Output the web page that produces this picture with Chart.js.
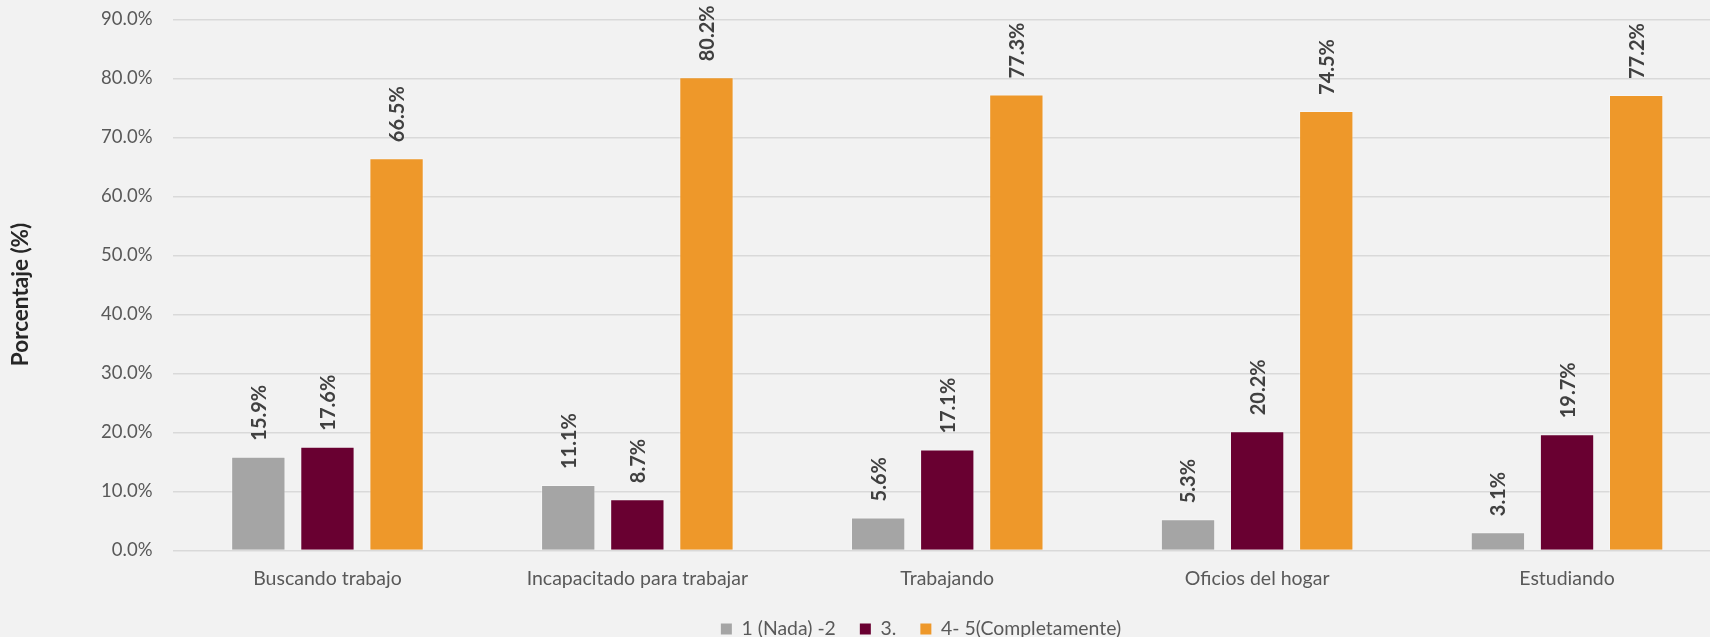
<!DOCTYPE html>
<html>
<head>
<meta charset="utf-8">
<script src="https://cdn.jsdelivr.net/npm/chart.js@4"></script>
<style>
  html, body { margin: 0; padding: 0; background: #F2F2F2; overflow: hidden; }
  #wrap { position: relative; width: 1740px; height: 637px; }
</style>
</head>
<body>
<div id="wrap"><canvas id="chart"></canvas></div>
<script>
const categories = ['Buscando trabajo', 'Incapacitado para trabajar', 'Trabajando', 'Oficios del hogar', 'Estudiando'];
const seriesNames = ['1 (Nada) -2', '3.', '4- 5(Completamente)'];
const nadaValues = [15.9, 11.1, 5.6, 5.3, 3.1];
const tresValues = [17.6, 8.7, 17.1, 20.2, 19.7];
const completaValues = [66.5, 80.2, 77.3, 74.5, 77.2];
const yTicks = [0, 10, 20, 30, 40, 50, 60, 70, 80, 90];
const yTitle = 'Porcentaje (%)';

const FONT = 'Lato, "Open Sans", sans-serif';
const TEXT = '#595959';
const LEGEND_FONT = 19.4;
const LEGEND_PAD = 24;

// Rotated value labels above each bar, plus the vertical axis title
const valueLabels = {
  id: 'valueLabels',
  afterDatasetsDraw(chart) {
    const ctx = chart.ctx;
    ctx.save();
    ctx.font = 'bold 20px ' + FONT;
    ctx.fillStyle = '#404040';
    ctx.textAlign = 'left';
    ctx.textBaseline = 'middle';
    chart.data.datasets.forEach((ds, i) => {
      chart.getDatasetMeta(i).data.forEach((bar, j) => {
        ctx.save();
        ctx.translate(bar.x, bar.y - 16);
        ctx.rotate(-Math.PI / 2);
        ctx.fillText(ds.data[j].toFixed(1) + '%', 0, 1);
        ctx.restore();
      });
    });
    ctx.font = 'bold 22.5px ' + FONT;
    ctx.fillStyle = '#262626';
    ctx.textAlign = 'center';
    ctx.translate(21, 294.5);
    ctx.rotate(-Math.PI / 2);
    ctx.fillText(yTitle, 0, 0);
    ctx.restore();
  }
};

// Keep the legend row compact and place it centred under the bars
const legendShift = {
  id: 'legendShift',
  beforeLayout(chart) {
    const lg = chart.legend;
    if (!lg || lg._compact) return;
    const fit = lg.fit.bind(lg);
    lg.fit = function () { fit(); this.height = 20; };
    lg._compact = true;
  },
  afterLayout(chart) {
    const lg = chart.legend;
    if (!lg) return;
    const dx = 921 - (lg.left + lg.right) / 2;
    lg.left += dx; lg.right += dx;
    const top = 629 - LEGEND_PAD - Math.max(LEGEND_FONT, 11) / 2;
    lg.top = top;
    lg.bottom = top + 80;
    lg.height = 80;
  }
};

const mk = (label, data, color) => ({
  label, data,
  backgroundColor: color,
  borderColor: 'rgba(255,255,255,0.35)',
  borderWidth: 1,
  borderSkipped: 'bottom'
});

new Chart(document.getElementById('chart'), {
  type: 'bar',
  data: {
    labels: categories,
    datasets: [
      mk(seriesNames[0], nadaValues, '#A5A5A5'),
      mk(seriesNames[1], tresValues, '#690031'),
      mk(seriesNames[2], completaValues, '#EE982A')
    ]
  },
  options: {
    responsive: true,
    maintainAspectRatio: false,
    animation: false,
    layout: { padding: { left: 0, right: 18, top: 19.5, bottom: 0 } },
    datasets: { bar: { categoryPercentage: 0.669, barPercentage: 0.786 } },
    plugins: {
      tooltip: { enabled: false },
      legend: {
        position: 'bottom',
        labels: {
          font: { family: FONT, size: LEGEND_FONT },
          color: TEXT,
          boxWidth: 11,
          boxHeight: 11,
          padding: LEGEND_PAD,
          generateLabels(chart) {
            return chart.data.datasets.map((ds, i) => ({
              text: ds.label,
              fillStyle: ds.backgroundColor,
              strokeStyle: ds.backgroundColor,
              lineWidth: 0,
              datasetIndex: i,
              fontColor: TEXT
            }));
          }
        }
      }
    },
    scales: {
      x: {
        grid: { display: false, drawTicks: false },
        border: { display: false },
        ticks: { font: { family: FONT, size: 19.5 }, color: TEXT, padding: 16.8 },
        afterFit(scale) {
          scale.height = 637 - 550.5 - 20;
          scale.paddingLeft = 0; scale.paddingRight = 0;
        }
      },
      y: {
        min: 0, max: 90,
        afterBuildTicks(scale) { scale.ticks = yTicks.map(v => ({ value: v })); },
        afterFit(scale) {
          scale.width = 172.5;
          scale.paddingTop = 0; scale.paddingBottom = 0;
        },
        grid: { color: '#D9D9D9', lineWidth: 1.5, drawTicks: false },
        border: { display: false },
        ticks: {
          font: { family: FONT, size: 18.5 }, color: TEXT, padding: 20,
          callback: v => v.toFixed(1) + '%'
        }
      }
    }
  },
  plugins: [valueLabels, legendShift]
});
</script>
</body>
</html>
